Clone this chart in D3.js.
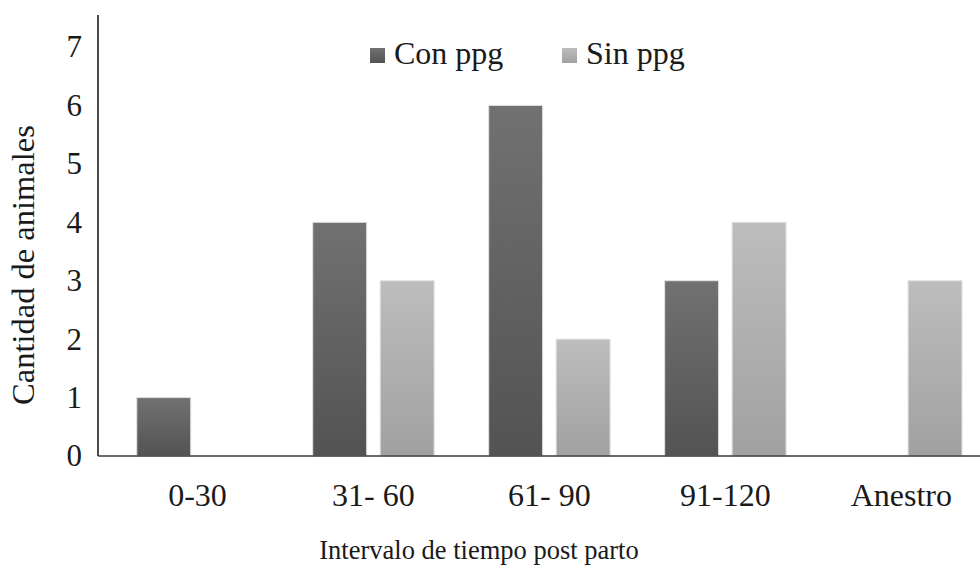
<!DOCTYPE html>
<html>
<head>
<meta charset="utf-8">
<script src="https://cdn.jsdelivr.net/npm/d3@7"></script>
</head>
<body style="margin:0;background:#ffffff">
<svg id="chart" width="980" height="567" style="display:block"></svg>
<script>
const categories = ["0-30", "31- 60", "61- 90", "91-120", "Anestro"];
const seriesNames = ["Con ppg", "Sin ppg"];
const conPpg = [1, 4, 6, 3, 0];
const sinPpg = [0, 3, 2, 4, 3];
const yTicks = [0, 1, 2, 3, 4, 5, 6, 7];
const xTitle = "Intervalo de tiempo post parto";
const yTitle = "Cantidad de animales";

const FONT = "Liberation Serif";
const svg = d3.select("#chart");
const W = 980, H = 567;

const axisX = 98, baseY = 456, topY = 15;

const x0 = d3.scaleBand().domain(categories).range([109.5, 989.3]).paddingInner(0).paddingOuter(0);
const bwCat = x0.bandwidth();
const x1 = d3.scaleBand().domain(seriesNames).range([bwCat * 0.155, bwCat * 0.845]).paddingInner(0.2).paddingOuter(0);
const y = d3.scaleLinear().domain([0, 7]).range([baseY, 47]);

const defs = svg.append("defs");
const grads = [
  { id: "gCon", top: "#717171", bottom: "#535353" },
  { id: "gSin", top: "#bdbdbd", bottom: "#a1a1a1" }
];
grads.forEach(g => {
  const lg = defs.append("linearGradient").attr("id", g.id).attr("x1", 0).attr("y1", 0).attr("x2", 0).attr("y2", 1);
  lg.append("stop").attr("offset", "0%").attr("stop-color", g.top);
  lg.append("stop").attr("offset", "100%").attr("stop-color", g.bottom);
});
const fills = { "Con ppg": "url(#gCon)", "Sin ppg": "url(#gSin)" };
const values = { "Con ppg": conPpg, "Sin ppg": sinPpg };

const data = [];
categories.forEach((c, i) => {
  seriesNames.forEach(s => data.push({ cat: c, series: s, value: values[s][i] }));
});
svg.append("g").selectAll("rect")
  .data(data.filter(d => d.value > 0))
  .join("rect")
  .attr("x", d => x0(d.cat) + x1(d.series))
  .attr("y", d => y(d.value))
  .attr("width", x1.bandwidth())
  .attr("height", d => baseY - y(d.value))
  .attr("fill", d => fills[d.series])
  .attr("stroke", "#e2e2e2")
  .attr("stroke-width", 1);

const yAxis = d3.axisLeft(y).tickValues(yTicks).tickSize(0).tickPadding(16).tickFormat(d3.format("d"));
const gy = svg.append("g").attr("transform", `translate(${axisX},0)`).call(yAxis)
  .attr("font-family", FONT).attr("font-size", 31).attr("fill", null);
gy.select(".domain").remove();
gy.selectAll("text").attr("font-family", FONT).attr("font-size", 31).attr("fill", "#1a1a1a");
svg.append("line").attr("x1", axisX).attr("x2", axisX).attr("y1", topY).attr("y2", baseY)
  .attr("stroke", "#1e1e1e").attr("stroke-width", 1.6);

const xAxis = d3.axisBottom(x0).tickSize(0).tickPadding(27);
const gx = svg.append("g").attr("transform", `translate(0,${baseY})`).call(xAxis)
  .attr("font-family", FONT).attr("font-size", 32).attr("fill", null);
gx.select(".domain").remove();
gx.selectAll("text").attr("font-family", FONT).attr("font-size", 32).attr("fill", "#1a1a1a");
svg.append("line").attr("x1", axisX).attr("x2", W).attr("y1", baseY).attr("y2", baseY)
  .attr("stroke", "#3a3a3a").attr("stroke-width", 1.6);

svg.append("text").attr("x", 479).attr("y", 559).attr("text-anchor", "middle")
  .attr("font-family", FONT).attr("font-size", 26.5).attr("fill", "#1a1a1a").text(xTitle);
svg.append("text").attr("transform", "translate(34,265) rotate(-90)").attr("text-anchor", "middle")
  .attr("font-family", FONT).attr("font-size", 32.5).attr("fill", "#1a1a1a").text(yTitle);

const legendPos = [{ sx: 370, tx: 394 }, { sx: 562, tx: 586 }];
seriesNames.forEach((s, i) => {
  svg.append("rect").attr("x", legendPos[i].sx).attr("y", 48).attr("width", 15).attr("height", 15)
    .attr("fill", fills[s]);
  svg.append("text").attr("x", legendPos[i].tx).attr("y", 64)
    .attr("font-family", FONT).attr("font-size", 32).attr("fill", "#1a1a1a").text(s);
});
</script>
</body>
</html>
